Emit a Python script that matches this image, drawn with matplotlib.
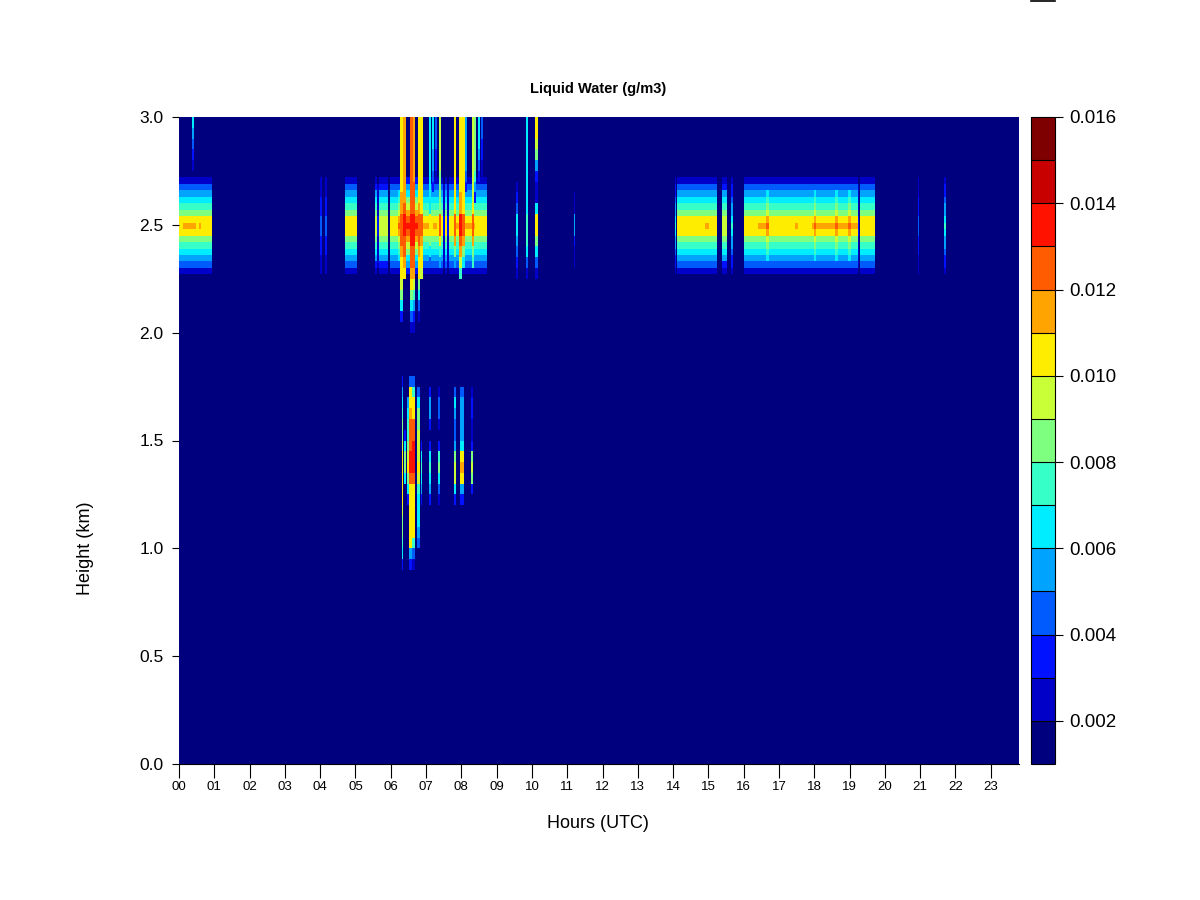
import numpy as np
import matplotlib
matplotlib.use("Agg")
import matplotlib.pyplot as plt
from matplotlib.colors import BoundaryNorm, ListedColormap
from matplotlib.cm import ScalarMappable
from matplotlib.lines import Line2D

plt.rcParams['font.family'] = ['Liberation Sans', 'DejaVu Sans']

# R jet.colors(15), one colour per 0.001 step
level_bounds = [0.001 * i for i in range(1, 17)]
jet_colors = ['#00007F', '#0000C8', '#0012FF', '#005BFF', '#00A4FF', '#00EDFF', '#36FFC8', '#7FFF7F',
              '#C8FF36', '#FFED00', '#FFA400', '#FF5B00', '#FF1200', '#C80000', '#7F0000']
hour_labels = ['%02d' % h for h in range(24)]
cbar_ticks = [0.002, 0.004, 0.006, 0.008, 0.010, 0.012, 0.014, 0.016]

# cloud band near 2.5 km, cell edges in km
band_edges = [2.27, 2.30, 2.33, 2.36, 2.39, 2.42, 2.45, 2.48, 2.51, 2.54, 2.57, 2.60, 2.63, 2.66, 2.69, 2.72]
band_blue = [.0021, .0024, .0027, .0030, .0033, .0036, .0040, .0046, .0040, .0036, .0033, .0030, .0027, .0024, .0021]
band_cyan = [.0025, .0032, .0038, .0044, .0050, .0056, .0062, .0072, .0062, .0056, .0050, .0044, .0038, .0032, .0025]
band_dark = [.0018, .0021, .0023, .0025, .0027, .0029, .0031, .0034, .0031, .0029, .0027, .0025, .0023, .0021, .0018]
band_p10 = [.0024, .0038, .0052, .0062, .0071, .0080, .0092, .0098, .0092, .0080, .0071, .0062, .0052, .0038, .0024]
band_p11 = [.0025, .0040, .0055, .0065, .0075, .0085, .0102, .0106, .0102, .0085, .0075, .0065, .0055, .0040, .0025]
band_p12 = [.0026, .0042, .0057, .0068, .0078, .0089, .0104, .0115, .0104, .0089, .0078, .0068, .0057, .0042, .0026]
band_p13 = [.0028, .0045, .0060, .0072, .0083, .0095, .0110, .0128, .0110, .0095, .0083, .0072, .0060, .0045, .0028]
band_p14 = [.0032, .0050, .0066, .0080, .0095, .0110, .0124, .0136, .0124, .0110, .0095, .0080, .0066, .0050, .0032]

# (hour start, hour end, profile) read along the time axis
band_starts = [0.00, 0.10, 0.48, 0.58, 0.62, 4.00, 4.15, 4.70, 5.55, 5.62, 5.67, 5.97, 6.20, 6.35, 6.85, 7.10, 7.20, 7.32,
               7.38, 7.48, 7.53, 7.60, 7.66, 7.86, 8.00, 8.08, 8.30, 8.40, 14.04, 14.12, 14.90, 15.02, 15.38, 15.65,
               16.00, 16.40, 16.64, 16.72, 17.45, 17.55, 17.93, 18.00, 18.06, 18.25, 18.60, 18.67, 18.96, 19.04, 19.25,
               19.30, 20.94, 21.68]
band_ends = [0.10, 0.48, 0.58, 0.62, 0.93, 4.04, 4.19, 5.05, 5.62, 5.67, 5.92, 6.20, 6.35, 6.85, 7.10, 7.20, 7.32, 7.38,
             7.48, 7.53, 7.60, 7.66, 7.86, 8.00, 8.08, 8.30, 8.40, 8.72, 14.08, 14.90, 15.02, 15.24, 15.53, 15.70,
             16.40, 16.64, 16.72, 17.45, 17.55, 17.93, 18.00, 18.06, 18.25, 18.60, 18.67, 18.96, 19.04, 19.25, 19.28,
             19.72, 20.98, 21.72]
band_profiles = [band_p11, band_p12, band_p11, band_p12, band_p11, band_blue, band_blue, band_p11, band_p10, band_dark,
                 band_p10, band_p11, band_p13, band_p14, band_p12, band_p11, band_p12, band_p11, band_p11, band_dark,
                 band_p11, band_dark, band_p11, band_p12, band_p13, band_p12, band_p12, band_p11, band_cyan, band_p11,
                 band_p12, band_p11, band_p10, band_cyan, band_p11, band_p12, band_p13, band_p11, band_p12, band_p11,
                 band_p12, band_p13, band_p12, band_p12, band_p13, band_p12, band_p13, band_p12, band_dark, band_p11,
                 band_blue, band_cyan]

# narrow columns above and below the band, 2.00-3.00 km in 0.05 km cells
upper_edges = [2.00 + 0.05 * i for i in range(21)]
upper_hours = [0.40, 6.30, 6.38, 6.58, 6.66, 6.80, 6.87, 7.11, 7.20, 7.28, 7.39, 7.82, 7.97, 8.05, 8.13, 8.33, 8.39, 8.50,
               8.58, 9.58, 9.86, 10.13, 11.20]
upper_widths = [0.05, 0.08, 0.08, 0.08, 0.08, 0.06, 0.06, 0.05, 0.05, 0.05, 0.06, 0.08, 0.08, 0.08, 0.05, 0.06, 0.06, 0.05,
                0.05, 0.04, 0.05, 0.10, 0.04]
upper_values = [
    [0, 0, 0, 0, 0, 0, 0, 0, 0, 0, 0, 0, 0, 0, 0, .0022, .0032, .0045, .0055, .0062],
    [0, .0030, .0060, .0090, .0098, .0105, .0108, .0115, .0125, .0130, .0130, .0115, .0110, .0108, .0105, .0105, .0105, .0105, .0105, .0105],
    [0, 0, 0, 0, 0, .0105, .0110, .0120, .0130, .0135, .0135, .0120, .0115, .0112, .0112, .0112, .0112, .0112, .0112, .0112],
    [.0025, .0045, .0065, .0085, .0100, .0110, .0120, .0130, .0134, .0138, .0138, .0130, .0125, .0120, .0120, .0120, .0120, .0120, .0120, .0120],
    [.0022, .0035, .0055, .0075, .0095, .0110, .0120, .0130, .0134, .0138, .0138, .0130, .0125, .0120, .0118, .0118, .0118, .0118, .0118, .0118],
    [0, .0025, .0045, .0060, .0090, .0102, .0108, .0115, .0125, .0130, .0130, .0112, .0108, .0104, .0104, .0104, .0104, .0104, .0104, .0104],
    [0, 0, 0, 0, 0, .0098, .0100, .0105, .0110, .0120, .0120, .0105, .0102, .0100, .0100, .0100, .0100, .0100, .0100, .0100],
    [0, 0, 0, 0, 0, 0, .0045, .0065, .0085, .0100, .0100, .0065, .0060, .0062, .0062, .0062, .0062, .0062, .0062, .0062],
    [0, 0, 0, 0, 0, 0, 0, 0, 0, 0, 0, 0, 0, .0038, .0045, .0052, .0058, .0064, .0066, .0066],
    [0, 0, 0, 0, 0, 0, 0, 0, 0, 0, 0, 0, 0, 0, .0022, .0030, .0036, .0040, .0042, .0042],
    [0, 0, 0, 0, 0, 0, .0050, .0075, .0100, .0128, .0128, .0085, .0080, .0088, .0090, .0092, .0092, .0092, .0092, .0092],
    [0, 0, 0, 0, 0, 0, .0050, .0085, .0110, .0130, .0130, .0100, .0100, .0102, .0102, .0102, .0102, .0102, .0102, .0102],
    [0, 0, 0, 0, 0, .0070, .0095, .0112, .0130, .0135, .0135, .0112, .0110, .0108, .0108, .0108, .0108, .0108, .0108, .0108],
    [0, 0, 0, 0, 0, 0, .0060, .0090, .0115, .0128, .0128, .0108, .0105, .0104, .0104, .0104, .0104, .0104, .0104, .0104],
    [0, 0, 0, 0, 0, 0, 0, 0, 0, 0, 0, 0, 0, .0035, .0045, .0050, .0055, .0058, .0058, .0058],
    [0, 0, 0, 0, 0, 0, .0070, .0090, .0110, .0128, .0128, .0100, .0098, .0096, .0096, .0096, .0096, .0096, .0096, .0096],
    [0, 0, 0, 0, 0, 0, 0, 0, 0, 0, 0, 0, .0035, .0050, .0075, .0085, .0088, .0088, .0088, .0088],
    [0, 0, 0, 0, 0, 0, 0, 0, 0, 0, 0, 0, 0, 0, .0030, .0040, .0055, .0065, .0068, .0068],
    [0, 0, 0, 0, 0, 0, 0, 0, 0, 0, 0, 0, 0, 0, .0022, .0028, .0034, .0038, .0040, .0040],
    [0, 0, 0, 0, 0, .0022, .0032, .0040, .0050, .0062, .0062, .0040, .0032, .0022, 0, 0, 0, 0, 0, 0],
    [0, 0, 0, 0, 0, .0028, .0045, .0060, .0072, .0078, .0078, .0066, .0066, .0066, .0066, .0066, .0066, .0066, .0066, .0066],
    [0, 0, 0, 0, 0, .0026, .0042, .0062, .0085, .0104, .0104, .0062, .0028, .0024, .0030, .0055, .0085, .0098, .0102, .0102],
    [0, 0, 0, 0, 0, 0, .0022, .0028, .0036, .0050, .0050, .0028, .0022, 0, 0, 0, 0, 0, 0, 0],
]

# low level cloud columns, 0.90-1.80 km in 0.05 km cells
lower_edges = [0.90 + 0.05 * i for i in range(19)]
lower_hours = [6.33, 6.41, 6.49, 6.57, 6.65, 6.78, 6.87, 7.11, 7.37, 7.82, 8.02, 8.30]
lower_widths = [0.04, 0.06, 0.06, 0.10, 0.08, 0.10, 0.04, 0.05, 0.04, 0.07, 0.09, 0.07]
lower_values = [
    [.0030, .0060, .0075, .0085, .0090, .0098, .0102, .0105, .0105, .0105, .0100, .0092, .0090, .0080, .0070, .0060, .0055, .0035],
    [0, 0, 0, 0, 0, 0, 0, 0, .0065, .0085, .0085, .0060, .0030, 0, 0, 0, 0, 0],
    [0, 0, 0, 0, 0, 0, .0030, .0060, .0085, .0100, .0095, .0080, .0075, .0072, .0066, .0050, 0, 0],
    [.0035, .0050, .0100, .0104, .0104, .0104, .0104, .0108, .0125, .0135, .0135, .0130, .0125, .0122, .0115, .0104, .0100, .0045],
    [.0025, .0040, .0075, .0100, .0104, .0104, .0104, .0108, .0130, .0136, .0136, .0132, .0125, .0120, .0108, .0104, .0075, .0045],
    [0, 0, .0040, .0058, .0060, .0060, .0060, .0075, .0098, .0100, .0098, .0096, .0092, .0090, .0088, .0062, .0040, 0],
    [0, 0, 0, 0, 0, 0, .0030, .0055, .0068, .0070, .0060, .0035, 0, 0, 0, 0, 0, 0],
    [0, 0, 0, 0, 0, 0, .0030, .0050, .0068, .0072, .0062, .0030, 0, .0030, .0055, .0058, .0030, 0],
    [0, 0, 0, 0, 0, 0, .0028, .0045, .0062, .0085, .0072, .0035, 0, .0028, .0040, .0042, .0028, 0],
    [0, 0, 0, 0, 0, 0, .0035, .0060, .0095, .0098, .0085, .0055, .0048, .0048, .0052, .0060, .0040, 0],
    [0, 0, 0, 0, 0, 0, .0030, .0058, .0108, .0110, .0100, .0062, .0052, .0052, .0055, .0058, .0040, 0],
    [0, 0, 0, 0, 0, 0, 0, .0030, .0088, .0092, .0082, .0032, .0025, .0028, .0032, .0034, .0025, 0],
]

cmap = ListedColormap(jet_colors)
norm = BoundaryNorm(level_bounds, cmap.N)


def draw_column(ax, left, right, edges, values):
    # zeros stay transparent so the layer underneath shows through
    column = np.ma.masked_equal(np.array(values).reshape(-1, 1), 0)
    ax.pcolormesh([left, right], edges, column, cmap=cmap, norm=norm)


fig = plt.figure(figsize=(12, 9), dpi=100)
ax = fig.add_axes([179 / 1200, 1 - 764 / 900, 840 / 1200, 647 / 900])
ax.set_facecolor(jet_colors[0])

for start, end, profile in zip(band_starts, band_ends, band_profiles):
    draw_column(ax, start, end, band_edges, profile)
for hour, width, values in zip(upper_hours, upper_widths, upper_values):
    draw_column(ax, hour - width / 2, hour + width / 2, upper_edges, values)
for hour, width, values in zip(lower_hours, lower_widths, lower_values):
    draw_column(ax, hour - width / 2, hour + width / 2, lower_edges, values)

ax.set_xlim(0, 23.8)
ax.set_ylim(0, 3)
for side in ['top', 'right', 'left']:
    ax.spines[side].set_visible(False)
ax.set_xticks(range(24))
ax.set_xticklabels(hour_labels, fontsize=9.5)
ax.set_yticks([0, 0.5, 1, 1.5, 2, 2.5, 3])
ax.set_yticklabels(['0.0', '0.5', '1.0', '1.5', '2.0', '2.5', '3.0'], fontsize=12.5)
ax.tick_params(axis='x', length=10, width=0.8, pad=2.5)
ax.tick_params(axis='y', length=5, width=0.8, pad=6)
ax.set_xlabel('Hours (UTC)', fontsize=13)
ax.xaxis.set_label_coords((598 - 179) / 840, -(823 - 764) / 647, transform=ax.transAxes)
ax.xaxis.label.set_verticalalignment('center')
ax.set_ylabel('Height (km)', fontsize=13)
ax.yaxis.set_label_coords((85 - 179) / 840, (764 - 548) / 647, transform=ax.transAxes)
ax.yaxis.label.set_verticalalignment('center')
fig.text(598 / 1200, 1 - 88.5 / 900, 'Liquid Water (g/m3)', fontsize=10.5, fontweight='bold', ha='center', va='center')

cax = fig.add_axes([1031 / 1200, 1 - 764 / 900, 24 / 1200, 647 / 900])
cbar = fig.colorbar(ScalarMappable(norm=norm, cmap=cmap), cax=cax, spacing='proportional', drawedges=True,
                    ticks=cbar_ticks)
cbar.minorticks_off()
cbar.dividers.set_linewidth(0.8)
cbar.dividers.set_color('black')
cbar.outline.set_linewidth(0.8)
cbar.ax.set_yticklabels(['%.3f' % t for t in cbar_ticks], fontsize=13.5)
cbar.ax.tick_params(length=6, width=0.8, pad=4.5)

# stray key outline clipped at the top edge of the device
fig.add_artist(Line2D([1031 / 1200, 1055 / 1200], [1 - 0.5 / 900, 1 - 0.5 / 900], color='black', lw=1.2))

fig.savefig('out.png', dpi=100)
